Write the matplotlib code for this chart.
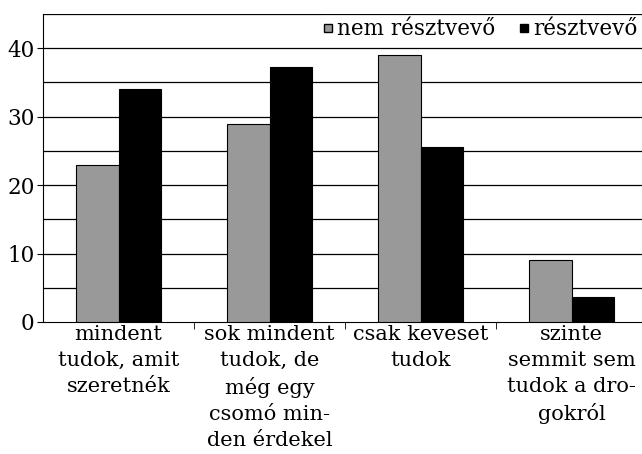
import matplotlib
matplotlib.use("Agg")
import matplotlib.pyplot as plt
from matplotlib.lines import Line2D
import numpy as np

categories = ["mindent\ntudok, amit\nszeretnék",
              "sok mindent\ntudok, de\nmég egy\ncsomó min-\nden érdekel",
              "csak keveset\ntudok",
              "szinte\nsemmit sem\ntudok a dro-\ngokról"]
series_names = ["nem résztvevő", "résztvevő"]
nem_resztvevo = [22.9, 29.0, 39.0, 9.1]
resztvevo = [34.0, 37.2, 25.6, 3.6]
yticks = [0, 10, 20, 30, 40]

plt.rcParams['font.family'] = ['DejaVu Serif']

fig = plt.figure(figsize=(6.42, 4.54), dpi=100)
ax = fig.add_axes([43/642, 1 - 322/454, 604/642, 308/454])

x = np.arange(len(categories))
w = 0.28
ax.bar(x - w/2, nem_resztvevo, w, color="#999999", edgecolor="black", linewidth=0.8, zorder=3)
ax.bar(x + w/2, resztvevo, w, color="black", edgecolor="black", linewidth=0.8, zorder=3)

ax.set_xlim(-0.5, 3.5)
ax.set_ylim(0, 45)
for g in range(5, 50, 5):
    ax.axhline(g, color="black", linewidth=0.9, zorder=1)

ax.set_yticks(yticks)
ax.set_yticklabels([str(t) for t in yticks], fontsize=15.5)
ax.tick_params(axis="y", length=4, pad=2)

ax.set_xticks(x)
ax.set_xticklabels(categories, fontsize=15, linespacing=1.46, va="top")
ax.tick_params(axis="x", which="major", length=0, pad=2)
ax.set_xticks(x[:-1] + 0.5, minor=True)
ax.tick_params(axis="x", which="minor", length=5, direction="out")

for s in ["top", "right"]:
    ax.spines[s].set_visible(False)

handles = [Line2D([], [], marker="s", linestyle="none", markersize=6,
                  markerfacecolor="#999999", markeredgecolor="black"),
           Line2D([], [], marker="s", linestyle="none", markersize=6,
                  markerfacecolor="black", markeredgecolor="black")]
leg = ax.legend(handles, series_names, loc="upper right", ncol=2, fontsize=15.5,
                frameon=True, framealpha=1, edgecolor="white",
                bbox_to_anchor=(599/604, 1.0), borderaxespad=0.1,
                handlelength=0.6, handletextpad=0.15, columnspacing=1.0,
                borderpad=0.1)
leg.set_zorder(5)

fig.savefig("out.png", dpi=100)
